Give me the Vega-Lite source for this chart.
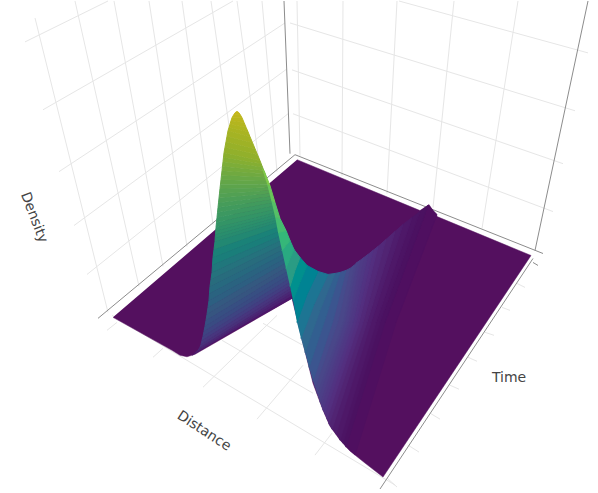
{"$schema":"https://vega.github.io/schema/vega-lite/v6.json","width":598,"height":493,"autosize":{"type":"fit","contains":"padding"},"padding":0,"background":"white","view":{"stroke":null},
"datasets":{
"grid":[{"x":35,"y":17,"x2":108,"y2":312},{"x":75,"y":0,"x2":139,"y2":286},{"x":114,"y":0,"x2":163,"y2":266},{"x":149,"y":0,"x2":187,"y2":246},{"x":182,"y":0,"x2":213,"y2":224},{"x":211,"y":0,"x2":240,"y2":201},{"x":237,"y":0,"x2":262,"y2":183},{"x":262,"y":0,"x2":277,"y2":171},
{"x":25,"y":41,"x2":108,"y2":0},{"x":43,"y":109,"x2":233,"y2":0},{"x":59,"y":171,"x2":285,"y2":22},{"x":74,"y":225,"x2":287,"y2":68},{"x":87,"y":274,"x2":288,"y2":113},
{"x":297,"y":0,"x2":300,"y2":155},{"x":343,"y":0,"x2":342,"y2":175},{"x":397,"y":0,"x2":387,"y2":193},{"x":454,"y":0,"x2":433,"y2":207},{"x":518,"y":0,"x2":482,"y2":228},
{"x":399,"y":0,"x2":588,"y2":52},{"x":290,"y":22,"x2":575,"y2":110},{"x":292,"y":69,"x2":563,"y2":163},{"x":293,"y":113,"x2":553,"y2":211},
{"x":112,"y":315,"x2":395,"y2":485},{"x":263,"y":323,"x2":303,"y2":345},{"x":222,"y":340,"x2":313,"y2":393},{"x":117,"y":322,"x2":107,"y2":330},{"x":163,"y":348,"x2":153,"y2":357},{"x":277,"y":315,"x2":203,"y2":387},{"x":303,"y":365,"x2":257,"y2":419},{"x":332,"y":433,"x2":315,"y2":455},
{"x":517,"y":283,"x2":525,"y2":287},{"x":502,"y":307,"x2":510,"y2":310},{"x":485,"y":332,"x2":494,"y2":335},{"x":468,"y":357,"x2":477,"y2":361},{"x":450,"y":385,"x2":459,"y2":389},{"x":430,"y":413,"x2":440,"y2":419},{"x":408,"y":445,"x2":419,"y2":452},{"x":387,"y":478,"x2":397,"y2":487}],
"axes":[{"x":284,"y":0,"x2":290,"y2":153},{"x":295,"y":154,"x2":98,"y2":318},{"x":295,"y":154,"x2":543,"y2":253},{"x":588,"y":0,"x2":535,"y2":250},{"x":533,"y":258,"x2":380,"y2":489},{"x":533,"y":262,"x2":538,"y2":265}],
"floor":[{"x":113,"y":317},{"x":172,"y":350},{"x":180,"y":355},{"x":187,"y":356.5},{"x":195,"y":354},{"x":292,"y":298},{"x":303,"y":343},{"x":313,"y":383},{"x":323,"y":410},{"x":330,"y":426},{"x":340,"y":440},{"x":350,"y":451},{"x":365,"y":463},{"x":383,"y":477},{"x":531,"y":255},{"x":437,"y":216},{"x":429,"y":204},{"x":420,"y":210},{"x":297,"y":159}],
"left":[
{"b":1,"z":0.01,"x":192,"y":355},{"b":1,"z":0.01,"x":195,"y":353},{"b":1,"z":0.01,"x":291.5,"y":295.5},{"b":1,"z":0.01,"x":292,"y":298},
{"b":2,"z":0.04,"x":195,"y":353},{"b":2,"z":0.04,"x":198,"y":350},{"b":2,"z":0.04,"x":291,"y":293},{"b":2,"z":0.04,"x":291.5,"y":295.5},
{"b":3,"z":0.06,"x":198,"y":350},{"b":3,"z":0.06,"x":200,"y":347},{"b":3,"z":0.06,"x":290.5,"y":290.5},{"b":3,"z":0.06,"x":291,"y":293},
{"b":4,"z":0.09,"x":200,"y":347},{"b":4,"z":0.09,"x":201,"y":344},{"b":4,"z":0.09,"x":290,"y":288},{"b":4,"z":0.09,"x":290.5,"y":290.5},
{"b":5,"z":0.11,"x":201,"y":344},{"b":5,"z":0.11,"x":202,"y":340},{"b":5,"z":0.11,"x":289.5,"y":285},{"b":5,"z":0.11,"x":290,"y":288},
{"b":6,"z":0.14,"x":202,"y":340},{"b":6,"z":0.14,"x":203,"y":336},{"b":6,"z":0.14,"x":289,"y":282},{"b":6,"z":0.14,"x":289.5,"y":285},
{"b":7,"z":0.16,"x":203,"y":336},{"b":7,"z":0.16,"x":204,"y":331},{"b":7,"z":0.16,"x":288.5,"y":278.5},{"b":7,"z":0.16,"x":289,"y":282},
{"b":8,"z":0.19,"x":204,"y":331},{"b":8,"z":0.19,"x":205,"y":326},{"b":8,"z":0.19,"x":288,"y":275},{"b":8,"z":0.19,"x":288.5,"y":278.5},
{"b":9,"z":0.21,"x":205,"y":326},{"b":9,"z":0.21,"x":206,"y":320},{"b":9,"z":0.21,"x":287,"y":271},{"b":9,"z":0.21,"x":288,"y":275},
{"b":10,"z":0.24,"x":206,"y":320},{"b":10,"z":0.24,"x":207,"y":314},{"b":10,"z":0.24,"x":286,"y":267},{"b":10,"z":0.24,"x":287,"y":271},
{"b":11,"z":0.26,"x":207,"y":314},{"b":11,"z":0.26,"x":208,"y":307},{"b":11,"z":0.26,"x":285.5,"y":262.5},{"b":11,"z":0.26,"x":286,"y":267},
{"b":12,"z":0.29,"x":208,"y":307},{"b":12,"z":0.29,"x":209,"y":300},{"b":12,"z":0.29,"x":285,"y":258},{"b":12,"z":0.29,"x":285.5,"y":262.5},
{"b":13,"z":0.31,"x":209,"y":300},{"b":13,"z":0.31,"x":209.5,"y":293},{"b":13,"z":0.31,"x":284,"y":253.5},{"b":13,"z":0.31,"x":285,"y":258},
{"b":14,"z":0.34,"x":209.5,"y":293},{"b":14,"z":0.34,"x":210,"y":286},{"b":14,"z":0.34,"x":283,"y":249},{"b":14,"z":0.34,"x":284,"y":253.5},
{"b":15,"z":0.36,"x":210,"y":286},{"b":15,"z":0.36,"x":211,"y":279},{"b":15,"z":0.36,"x":282,"y":244.5},{"b":15,"z":0.36,"x":283,"y":249},
{"b":16,"z":0.39,"x":211,"y":279},{"b":16,"z":0.39,"x":212,"y":272},{"b":16,"z":0.39,"x":281,"y":240},{"b":16,"z":0.39,"x":282,"y":244.5},
{"b":17,"z":0.41,"x":212,"y":272},{"b":17,"z":0.41,"x":212.5,"y":264.5},{"b":17,"z":0.41,"x":280,"y":235.5},{"b":17,"z":0.41,"x":281,"y":240},
{"b":18,"z":0.44,"x":212.5,"y":264.5},{"b":18,"z":0.44,"x":213,"y":257},{"b":18,"z":0.44,"x":279,"y":231},{"b":18,"z":0.44,"x":280,"y":235.5},
{"b":19,"z":0.46,"x":213,"y":257},{"b":19,"z":0.46,"x":214,"y":249},{"b":19,"z":0.46,"x":278,"y":226.5},{"b":19,"z":0.46,"x":279,"y":231},
{"b":20,"z":0.49,"x":214,"y":249},{"b":20,"z":0.49,"x":215,"y":241},{"b":20,"z":0.49,"x":277,"y":222},{"b":20,"z":0.49,"x":278,"y":226.5},
{"b":21,"z":0.506,"x":215,"y":241},{"b":21,"z":0.506,"x":215.2,"y":237.5},{"b":21,"z":0.506,"x":276.5,"y":219.5},{"b":21,"z":0.506,"x":277,"y":222},
{"b":22,"z":0.519,"x":215.2,"y":237.5},{"b":22,"z":0.519,"x":215.5,"y":234},{"b":22,"z":0.519,"x":276,"y":217},{"b":22,"z":0.519,"x":276.5,"y":219.5},
{"b":23,"z":0.531,"x":215.5,"y":234},{"b":23,"z":0.531,"x":215.8,"y":230.5},{"b":23,"z":0.531,"x":275.5,"y":214.5},{"b":23,"z":0.531,"x":276,"y":217},
{"b":24,"z":0.544,"x":215.8,"y":230.5},{"b":24,"z":0.544,"x":216,"y":227},{"b":24,"z":0.544,"x":275,"y":212},{"b":24,"z":0.544,"x":275.5,"y":214.5},
{"b":25,"z":0.556,"x":216,"y":227},{"b":25,"z":0.556,"x":216.5,"y":222},{"b":25,"z":0.556,"x":274.2,"y":208.8},{"b":25,"z":0.556,"x":275,"y":212},
{"b":26,"z":0.569,"x":216.5,"y":222},{"b":26,"z":0.569,"x":217,"y":217},{"b":26,"z":0.569,"x":273.5,"y":205.5},{"b":26,"z":0.569,"x":274.2,"y":208.8},
{"b":27,"z":0.581,"x":217,"y":217},{"b":27,"z":0.581,"x":217.5,"y":212},{"b":27,"z":0.581,"x":272.7,"y":202.2},{"b":27,"z":0.581,"x":273.5,"y":205.5},
{"b":28,"z":0.594,"x":217.5,"y":212},{"b":28,"z":0.594,"x":218,"y":207},{"b":28,"z":0.594,"x":272,"y":199},{"b":28,"z":0.594,"x":272.7,"y":202.2},
{"b":29,"z":0.606,"x":218,"y":207},{"b":29,"z":0.606,"x":218.5,"y":202.2},{"b":29,"z":0.606,"x":271.2,"y":196},{"b":29,"z":0.606,"x":272,"y":199},
{"b":30,"z":0.619,"x":218.5,"y":202.2},{"b":30,"z":0.619,"x":219,"y":197.5},{"b":30,"z":0.619,"x":270.5,"y":193},{"b":30,"z":0.619,"x":271.2,"y":196},
{"b":31,"z":0.631,"x":219,"y":197.5},{"b":31,"z":0.631,"x":219.5,"y":192.8},{"b":31,"z":0.631,"x":269.8,"y":190},{"b":31,"z":0.631,"x":270.5,"y":193},
{"b":32,"z":0.644,"x":219.5,"y":192.8},{"b":32,"z":0.644,"x":220,"y":188},{"b":32,"z":0.644,"x":269,"y":187},{"b":32,"z":0.644,"x":269.8,"y":190},
{"b":33,"z":0.656,"x":220,"y":188},{"b":33,"z":0.656,"x":220.5,"y":183.5},{"b":33,"z":0.656,"x":268,"y":183.5},{"b":33,"z":0.656,"x":269,"y":187},
{"b":34,"z":0.669,"x":220.5,"y":183.5},{"b":34,"z":0.669,"x":221,"y":179},{"b":34,"z":0.669,"x":267,"y":180},{"b":34,"z":0.669,"x":268,"y":183.5},
{"b":35,"z":0.681,"x":221,"y":179},{"b":35,"z":0.681,"x":221.5,"y":174.5},{"b":35,"z":0.681,"x":266,"y":176.5},{"b":35,"z":0.681,"x":267,"y":180},
{"b":36,"z":0.694,"x":221.5,"y":174.5},{"b":36,"z":0.694,"x":222,"y":170},{"b":36,"z":0.694,"x":265,"y":173},{"b":36,"z":0.694,"x":266,"y":176.5},
{"b":37,"z":0.706,"x":222,"y":170},{"b":37,"z":0.706,"x":222.5,"y":165.5},{"b":37,"z":0.706,"x":263.8,"y":169.8},{"b":37,"z":0.706,"x":265,"y":173},
{"b":38,"z":0.719,"x":222.5,"y":165.5},{"b":38,"z":0.719,"x":223,"y":161},{"b":38,"z":0.719,"x":262.5,"y":166.5},{"b":38,"z":0.719,"x":263.8,"y":169.8},
{"b":39,"z":0.731,"x":223,"y":161},{"b":39,"z":0.731,"x":223.5,"y":156.5},{"b":39,"z":0.731,"x":261.2,"y":163.2},{"b":39,"z":0.731,"x":262.5,"y":166.5},
{"b":40,"z":0.744,"x":223.5,"y":156.5},{"b":40,"z":0.744,"x":224,"y":152},{"b":40,"z":0.744,"x":260,"y":160},{"b":40,"z":0.744,"x":261.2,"y":163.2},
{"b":41,"z":0.756,"x":224,"y":152},{"b":41,"z":0.756,"x":225,"y":146.5},{"b":41,"z":0.756,"x":257.5,"y":154},{"b":41,"z":0.756,"x":260,"y":160},
{"b":42,"z":0.769,"x":225,"y":146.5},{"b":42,"z":0.769,"x":226,"y":141},{"b":42,"z":0.769,"x":255,"y":148},{"b":42,"z":0.769,"x":257.5,"y":154},
{"b":43,"z":0.781,"x":226,"y":141},{"b":43,"z":0.781,"x":227,"y":135.5},{"b":43,"z":0.781,"x":252.5,"y":142},{"b":43,"z":0.781,"x":255,"y":148},
{"b":44,"z":0.794,"x":227,"y":135.5},{"b":44,"z":0.794,"x":228,"y":130},{"b":44,"z":0.794,"x":250,"y":136},{"b":44,"z":0.794,"x":252.5,"y":142},
{"b":45,"z":0.805,"x":228,"y":130},{"b":45,"z":0.805,"x":229,"y":126.7},{"b":45,"z":0.805,"x":248,"y":131},{"b":45,"z":0.805,"x":250,"y":136},
{"b":46,"z":0.815,"x":229,"y":126.7},{"b":46,"z":0.815,"x":230,"y":123.5},{"b":46,"z":0.815,"x":246,"y":126.5},{"b":46,"z":0.815,"x":248,"y":131},
{"b":47,"z":0.825,"x":230,"y":123.5},{"b":47,"z":0.825,"x":231,"y":120},{"b":47,"z":0.825,"x":244,"y":121.7},{"b":47,"z":0.825,"x":246,"y":126.5},
{"b":48,"z":0.835,"x":231,"y":120},{"b":48,"z":0.835,"x":232,"y":117},{"b":48,"z":0.835,"x":242,"y":117},{"b":48,"z":0.835,"x":244,"y":121.7},
{"b":49,"z":0.848,"x":232,"y":117},{"b":49,"z":0.848,"x":234,"y":113.5},{"b":49,"z":0.848,"x":240,"y":113.5},{"b":49,"z":0.848,"x":242,"y":117},
{"b":50,"z":0.863,"x":234,"y":113.5},{"b":50,"z":0.863,"x":236,"y":111},{"b":50,"z":0.863,"x":238,"y":111},{"b":50,"z":0.863,"x":240,"y":113.5}],
"right":[
{"b":1,"z":0.005,"x":355,"y":455},{"b":1,"z":0.005,"x":396,"y":322},{"b":1,"z":0.005,"x":437,"y":214},{"b":1,"z":0.005,"x":428,"y":205},{"b":1,"z":0.005,"x":385,"y":322},{"b":1,"z":0.005,"x":346,"y":447},
{"b":2,"z":0.015,"x":346,"y":447},{"b":2,"z":0.015,"x":385,"y":322},{"b":2,"z":0.015,"x":428,"y":205},{"b":2,"z":0.015,"x":420,"y":211},{"b":2,"z":0.015,"x":380,"y":322},{"b":2,"z":0.015,"x":343,"y":443},
{"b":3,"z":0.025,"x":343,"y":443},{"b":3,"z":0.025,"x":380,"y":322},{"b":3,"z":0.025,"x":420,"y":211},{"b":3,"z":0.025,"x":412,"y":217},{"b":3,"z":0.025,"x":376,"y":322},{"b":3,"z":0.025,"x":340,"y":440},
{"b":4,"z":0.038,"x":340,"y":440},{"b":4,"z":0.038,"x":376,"y":322},{"b":4,"z":0.038,"x":412,"y":217},{"b":4,"z":0.038,"x":403,"y":224},{"b":4,"z":0.038,"x":371,"y":322},{"b":4,"z":0.038,"x":336,"y":434},
{"b":5,"z":0.052,"x":336,"y":434},{"b":5,"z":0.052,"x":371,"y":322},{"b":5,"z":0.052,"x":403,"y":224},{"b":5,"z":0.052,"x":395,"y":231},{"b":5,"z":0.052,"x":367,"y":322},{"b":5,"z":0.052,"x":332,"y":429},
{"b":6,"z":0.068,"x":332,"y":429},{"b":6,"z":0.068,"x":367,"y":322},{"b":6,"z":0.068,"x":395,"y":231},{"b":6,"z":0.068,"x":386,"y":239},{"b":6,"z":0.068,"x":363,"y":322},{"b":6,"z":0.068,"x":329,"y":424},
{"b":7,"z":0.082,"x":329,"y":424},{"b":7,"z":0.082,"x":363,"y":322},{"b":7,"z":0.082,"x":386,"y":239},{"b":7,"z":0.082,"x":378,"y":246},{"b":7,"z":0.082,"x":359,"y":322},{"b":7,"z":0.082,"x":327,"y":419},
{"b":8,"z":0.098,"x":327,"y":419},{"b":8,"z":0.098,"x":359,"y":322},{"b":8,"z":0.098,"x":378,"y":246},{"b":8,"z":0.098,"x":373,"y":250},{"b":8,"z":0.098,"x":356,"y":322},{"b":8,"z":0.098,"x":325,"y":414},
{"b":9,"z":0.112,"x":325,"y":414},{"b":9,"z":0.112,"x":356,"y":322},{"b":9,"z":0.112,"x":373,"y":250},{"b":9,"z":0.112,"x":368,"y":254},{"b":9,"z":0.112,"x":353,"y":322},{"b":9,"z":0.112,"x":323,"y":410},
{"b":10,"z":0.128,"x":323,"y":410},{"b":10,"z":0.128,"x":353,"y":322},{"b":10,"z":0.128,"x":368,"y":254},{"b":10,"z":0.128,"x":364,"y":257},{"b":10,"z":0.128,"x":350,"y":322},{"b":10,"z":0.128,"x":321.5,"y":406},
{"b":11,"z":0.142,"x":321.5,"y":406},{"b":11,"z":0.142,"x":350,"y":322},{"b":11,"z":0.142,"x":364,"y":257},{"b":11,"z":0.142,"x":360,"y":260},{"b":11,"z":0.142,"x":348,"y":322},{"b":11,"z":0.142,"x":320,"y":402},
{"b":12,"z":0.158,"x":320,"y":402},{"b":12,"z":0.158,"x":348,"y":322},{"b":12,"z":0.158,"x":360,"y":260},{"b":12,"z":0.158,"x":357,"y":262},{"b":12,"z":0.158,"x":345,"y":322},{"b":12,"z":0.158,"x":318.5,"y":397},
{"b":13,"z":0.172,"x":318.5,"y":397},{"b":13,"z":0.172,"x":345,"y":322},{"b":13,"z":0.172,"x":357,"y":262},{"b":13,"z":0.172,"x":354,"y":265},{"b":13,"z":0.172,"x":343,"y":322},{"b":13,"z":0.172,"x":317,"y":393},
{"b":14,"z":0.19,"x":317,"y":393},{"b":14,"z":0.19,"x":343,"y":322},{"b":14,"z":0.19,"x":354,"y":265},{"b":14,"z":0.19,"x":350,"y":268},{"b":14,"z":0.19,"x":338,"y":321},{"b":14,"z":0.19,"x":315,"y":387},
{"b":15,"z":0.21,"x":315,"y":387},{"b":15,"z":0.21,"x":338,"y":321},{"b":15,"z":0.21,"x":350,"y":268},{"b":15,"z":0.21,"x":346,"y":270},{"b":15,"z":0.21,"x":333,"y":320},{"b":15,"z":0.21,"x":313,"y":381},
{"b":16,"z":0.24,"x":313,"y":381},{"b":16,"z":0.24,"x":333,"y":320},{"b":16,"z":0.24,"x":346,"y":270},{"b":16,"z":0.24,"x":340,"y":272},{"b":16,"z":0.24,"x":326,"y":316},{"b":16,"z":0.24,"x":309,"y":367},
{"b":17,"z":0.28,"x":309,"y":367},{"b":17,"z":0.28,"x":326,"y":316},{"b":17,"z":0.28,"x":340,"y":272},{"b":17,"z":0.28,"x":335,"y":273},{"b":17,"z":0.28,"x":320,"y":310},{"b":17,"z":0.28,"x":305,"y":352},
{"b":18,"z":0.32,"x":305,"y":352},{"b":18,"z":0.32,"x":320,"y":310},{"b":18,"z":0.32,"x":335,"y":273},{"b":18,"z":0.32,"x":328,"y":274},{"b":18,"z":0.32,"x":314,"y":304},{"b":18,"z":0.32,"x":301,"y":338},
{"b":19,"z":0.36,"x":301,"y":338},{"b":19,"z":0.36,"x":314,"y":304},{"b":19,"z":0.36,"x":328,"y":274},{"b":19,"z":0.36,"x":318,"y":271},{"b":19,"z":0.36,"x":307,"y":294},{"b":19,"z":0.36,"x":297,"y":322},
{"b":20,"z":0.4,"x":297,"y":322},{"b":20,"z":0.4,"x":307,"y":294},{"b":20,"z":0.4,"x":318,"y":271},{"b":20,"z":0.4,"x":307,"y":265},{"b":20,"z":0.4,"x":300,"y":282},{"b":20,"z":0.4,"x":293,"y":300},
{"b":21,"z":0.44,"x":293,"y":300},{"b":21,"z":0.44,"x":300,"y":282},{"b":21,"z":0.44,"x":307,"y":265},{"b":21,"z":0.44,"x":300,"y":257},{"b":21,"z":0.44,"x":295,"y":270},{"b":21,"z":0.44,"x":290,"y":286},
{"b":22,"z":0.48,"x":290,"y":286},{"b":22,"z":0.48,"x":295,"y":270},{"b":22,"z":0.48,"x":300,"y":257},{"b":22,"z":0.48,"x":294,"y":249},{"b":22,"z":0.48,"x":290,"y":258},{"b":22,"z":0.48,"x":286,"y":268},
{"b":23,"z":0.52,"x":286,"y":268},{"b":23,"z":0.52,"x":290,"y":258},{"b":23,"z":0.52,"x":294,"y":249},{"b":23,"z":0.52,"x":290,"y":240},{"b":23,"z":0.52,"x":286,"y":245},{"b":23,"z":0.52,"x":282,"y":250},
{"b":24,"z":0.56,"x":282,"y":250},{"b":24,"z":0.56,"x":286,"y":245},{"b":24,"z":0.56,"x":290,"y":240},{"b":24,"z":0.56,"x":286,"y":230},{"b":24,"z":0.56,"x":282,"y":231},{"b":24,"z":0.56,"x":278,"y":232},
{"b":25,"z":0.6,"x":278,"y":232},{"b":25,"z":0.6,"x":282,"y":231},{"b":25,"z":0.6,"x":286,"y":230},{"b":25,"z":0.6,"x":280,"y":218},{"b":25,"z":0.6,"x":277.5,"y":217},{"b":25,"z":0.6,"x":275,"y":216},
{"b":26,"z":0.64,"x":275,"y":216},{"b":26,"z":0.64,"x":277.5,"y":217},{"b":26,"z":0.64,"x":280,"y":218},{"b":26,"z":0.64,"x":275,"y":202},{"b":26,"z":0.64,"x":273,"y":200.5},{"b":26,"z":0.64,"x":271,"y":199},
{"b":27,"z":0.68,"x":271,"y":199},{"b":27,"z":0.68,"x":273,"y":200.5},{"b":27,"z":0.68,"x":275,"y":202},{"b":27,"z":0.68,"x":270,"y":185},{"b":27,"z":0.68,"x":268.5,"y":184},{"b":27,"z":0.68,"x":267,"y":183},
{"b":28,"z":0.72,"x":267,"y":183},{"b":28,"z":0.72,"x":268.5,"y":184},{"b":28,"z":0.72,"x":270,"y":185},{"b":28,"z":0.72,"x":264,"y":170},{"b":28,"z":0.72,"x":263,"y":169},{"b":28,"z":0.72,"x":262,"y":168}],
"lab1":[{"t":"Density","x":34,"y":217}],"lab2":[{"t":"Distance","x":204,"y":431}],"lab3":[{"t":"Time","x":509,"y":378}]},
"resolve":{"scale":{"fill":"independent","stroke":"independent"}},
"encoding":{"x":{"field":"x","type":"quantitative","scale":{"domain":[0,598],"nice":false,"zero":false},"axis":null},"y":{"field":"y","type":"quantitative","scale":{"domain":[493,0],"nice":false,"zero":false},"axis":null}},
"layer":[
{"data":{"name":"grid"},"mark":{"type":"rule","stroke":"#e6e6e6","strokeWidth":1},"encoding":{"x2":{"field":"x2"},"y2":{"field":"y2"}}},
{"data":{"name":"axes"},"mark":{"type":"rule","stroke":"#8c8c8c","strokeWidth":1},"encoding":{"x2":{"field":"x2"},"y2":{"field":"y2"}}},
{"data":{"name":"floor"},"mark":{"type":"line","fill":"#54105f","stroke":"#54105f","strokeWidth":0.5,"interpolate":"linear"},"encoding":{"order":{"value":null}}},
{"data":{"name":"left"},"mark":{"type":"line","strokeWidth":1},"encoding":{"detail":{"field":"b"},"order":{"value":null},
"fill":{"field":"z","type":"quantitative","legend":null,"scale":{"domain":[0,0.125,0.25,0.375,0.5,0.625,0.75,0.87],"range":["#4d1368","#463a80","#37577f","#2a6f7c","#268a70","#4f9f55","#8fb02c","#c9b71a"]}},
"stroke":{"field":"z","type":"quantitative","legend":null,"scale":{"domain":[0,0.125,0.25,0.375,0.5,0.625,0.75,0.87],"range":["#4d1368","#463a80","#37577f","#2a6f7c","#268a70","#4f9f55","#8fb02c","#c9b71a"]}}}},
{"data":{"name":"right"},"mark":{"type":"line","strokeWidth":1},"encoding":{"detail":{"field":"b"},"order":{"value":null},
"fill":{"field":"z","type":"quantitative","legend":null,"scale":{"domain":[0,0.01,0.05,0.1,0.2,0.33,0.48,0.56,0.64,0.72,0.85],"range":["#54105f","#4a0f60","#4f1c6c","#533080","#48498a","#2f6a8e","#2a9c84","#35b779","#55c067","#7fc94a","#b5d32e"]}},
"stroke":{"field":"z","type":"quantitative","legend":null,"scale":{"domain":[0,0.01,0.05,0.1,0.2,0.33,0.48,0.56,0.64,0.72,0.85],"range":["#54105f","#4a0f60","#4f1c6c","#533080","#48498a","#2f6a8e","#2a9c84","#35b779","#55c067","#7fc94a","#b5d32e"]}}}},
{"data":{"name":"lab1"},"mark":{"type":"text","font":"DejaVu Sans","fontSize":14,"fill":"#444444","angle":69,"align":"center","baseline":"middle"},"encoding":{"text":{"field":"t"}}},
{"data":{"name":"lab2"},"mark":{"type":"text","font":"DejaVu Sans","fontSize":14,"fill":"#444444","angle":33,"align":"center","baseline":"middle"},"encoding":{"text":{"field":"t"}}},
{"data":{"name":"lab3"},"mark":{"type":"text","font":"DejaVu Sans","fontSize":14,"fill":"#444444","align":"center","baseline":"middle"},"encoding":{"text":{"field":"t"}}}
]}
